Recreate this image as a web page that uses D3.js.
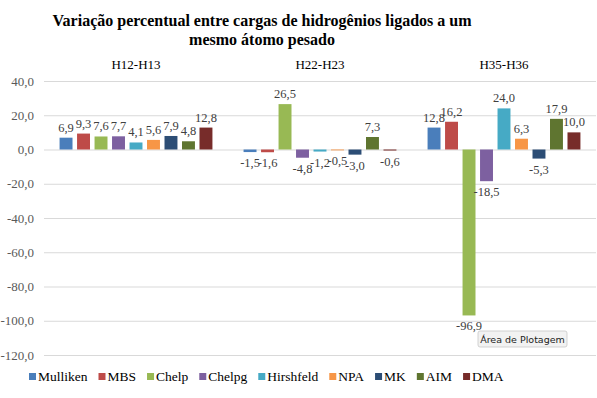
<!DOCTYPE html>
<html><head><meta charset="utf-8">
<script src="https://cdn.jsdelivr.net/npm/d3@7"></script>
<style>body{margin:0;background:#fff}svg{display:block}
.serif{font-family:"Liberation Serif","Times New Roman",serif}</style>
</head><body>
<script>
const categories = ["H12-H13", "H22-H23", "H35-H36"];
const series = ["Mulliken", "MBS", "Chelp", "Chelpg", "Hirshfeld", "NPA", "MK", "AIM", "DMA"];
const valuesH12 = [6.9, 9.3, 7.6, 7.7, 4.1, 5.6, 7.9, 4.8, 12.8];
const valuesH22 = [-1.5, -1.6, 26.5, -4.8, -1.2, -0.5, -3.0, 7.3, -0.6];
const valuesH35 = [12.8, 16.2, -96.9, -18.5, 24.0, 6.3, -5.3, 17.9, 10.0];
const colors = ["#4a7ebb", "#be4b48", "#98b954", "#7d60a0", "#46aac5", "#f79646", "#2c4d75", "#5f7530", "#772c2a"];
const yTicks = [40, 20, 0, -20, -40, -60, -80, -100, -120];
const title = ["Variação percentual entre cargas de hidrogênios ligados a um", "mesmo átomo pesado"];

const data = [valuesH12, valuesH22, valuesH35];
const W = 597, H = 398;
const svg = d3.select("body").append("svg").attr("width", W).attr("height", H);
const loc = d3.formatLocale({decimal: ",", thousands: ".", grouping: [3], currency: ["", ""], minus: "-"});
const fmt = loc.format(".1f");

const x0 = d3.scaleBand().domain(categories).range([44, 596]);
const x1 = d3.scaleBand().domain(series).range([0, x0.bandwidth()]).paddingInner(0.26).paddingOuter(0.89);
const y = d3.scaleLinear().domain([-120, 40]).range([355, 81]);

// title
svg.append("g").selectAll("text").data(title).join("text")
  .attr("class", "serif")
  .attr("x", 262).attr("y", (d, i) => 26 + i * 19)
  .attr("text-anchor", "middle")
  .attr("font-weight", "bold").attr("font-size", 16).attr("fill", "#000")
  .text(d => d);

// gridlines + y labels
const yAxis = d3.axisLeft(y).tickValues(yTicks).tickSize(-(596 - 44)).tickFormat(fmt);
const gy = svg.append("g").attr("transform", "translate(44,0)").call(yAxis);
gy.select(".domain").remove();
gy.attr("font-family", null).attr("font-size", null);
gy.selectAll(".tick line").attr("stroke", "#d9d9d9").attr("stroke-width", 1.2);
gy.selectAll(".tick text").attr("x", -10).attr("class", "serif")
  .attr("font-size", 13).attr("fill", "#595959");

// category labels at top
const xAxis = d3.axisTop(x0).tickSize(0);
const gx = svg.append("g").attr("transform", "translate(0,72)").call(xAxis);
gx.select(".domain").remove();
gx.attr("font-family", null).attr("font-size", null);
gx.selectAll(".tick text").attr("class", "serif")
  .attr("font-size", 13).attr("fill", "#000");

// bars
const groups = svg.append("g").selectAll("g").data(categories).join("g")
  .attr("transform", d => `translate(${x0(d)},0)`);
groups.each(function(cat, ci) {
  const g = d3.select(this);
  const vals = series.map((s, i) => ({s, v: data[ci][i], c: colors[i]}));
  g.selectAll("rect").data(vals).join("rect")
    .attr("x", d => x1(d.s)).attr("width", x1.bandwidth())
    .attr("y", d => y(Math.max(0, d.v)))
    .attr("height", d => Math.abs(y(d.v) - y(0)))
    .attr("fill", d => d.c);
  g.selectAll("text").data(vals).join("text")
    .attr("class", "serif")
    .attr("x", d => x1(d.s) + x1.bandwidth() / 2)
    .attr("y", d => d.v >= 0 ? y(d.v) - 6 : y(d.v) + 15)
    .attr("text-anchor", "middle")
    .attr("font-size", 12.5).attr("fill", "#404040")
    .text(d => fmt(d.v));
});

// tooltip
const tip = svg.append("g").attr("transform", "translate(478,331)");
tip.append("rect").attr("width", 89).attr("height", 16).attr("rx", 2)
  .attr("fill", "#f2f2f2").attr("stroke", "#c8c8c8").attr("stroke-width", 0.8);
tip.append("text").attr("x", 44.5).attr("y", 12).attr("text-anchor", "middle")
  .attr("font-family", "DejaVu Sans, sans-serif").attr("font-size", 9.5).attr("fill", "#222")
  .text("Área de Plotagem");

// legend
const leg = svg.append("g").attr("transform", "translate(0,381)");
let lx = 29;
series.forEach((s, i) => {
  const gi = leg.append("g").attr("transform", `translate(${lx},0)`);
  gi.append("rect").attr("x", 0).attr("y", -8).attr("width", 7).attr("height", 7).attr("fill", colors[i]);
  const t = gi.append("text").attr("class", "serif").attr("x", 9).attr("y", 0)
    .attr("font-size", 13.5).attr("fill", "#000").text(s);
  lx += 9 + t.node().getComputedTextLength() + 11;
});
</script>
</body></html>
